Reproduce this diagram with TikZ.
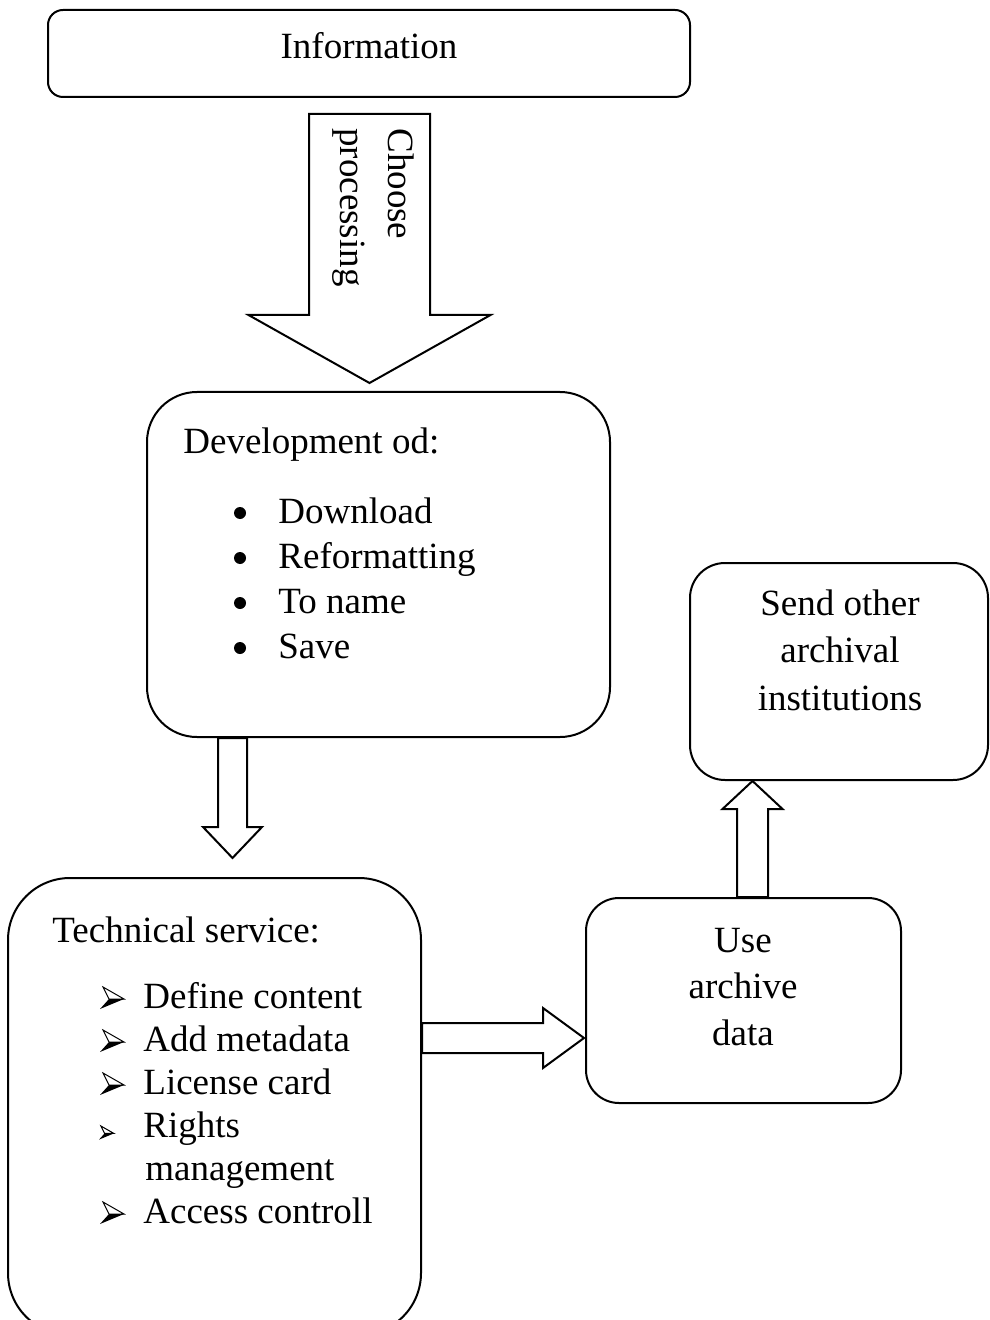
\documentclass[tikz,border=0pt]{standalone}
\usepackage{fontspec}
\setmainfont{Liberation Serif}
\usetikzlibrary{calc}

% Block arrow from #1 (tail) to #2 (tip): shaft half width #3,
% head half width #4, head length #5
\newcommand\blockarrow[5]{%
  \path ($(#2)!#5!(#1)$) coordinate (hb);
  \draw[arrowbody]
    ($(#1)!#3!90:(#2)$) -- ($(hb)!#3!90:(#2)$) -- ($(hb)!#4!90:(#2)$)
    -- (#2)
    -- ($(hb)!#4!-90:(#2)$) -- ($(hb)!#3!-90:(#2)$) -- ($(#1)!#3!-90:(#2)$)
    -- cycle;
}

\begin{document}
\begin{tikzpicture}[x=0.5pt,y=-0.5pt,
  box/.style={draw, line width=1pt, rectangle, inner sep=0pt},
  txt/.style={inner sep=0pt, font=\fontsize{18.5}{22}\selectfont},
  dot/.style={circle, fill, inner sep=0pt, minimum size=6pt},
  arrowbody/.style={draw, fill=white, line width=1pt, line join=miter},
  % three-d arrowhead bullet, origin at its lower left on the baseline
  pics/arrowbullet/.style={code={
    \draw[line width=0.5pt, fill=white, line join=miter] (3,-21) -- (24,-9) -- (9,-9) -- cycle;
    \fill (9,-9) -- (24,-9) -- (0,1) -- cycle;
  }}]
\useasboundingbox (0,0) rectangle (989,1320);

% boxes
\node[box, minimum width=321pt, minimum height=43.5pt, rounded corners=7.5pt] (info) at (369,53.5) {};
\node[box, minimum width=231.5pt, minimum height=172.5pt, rounded corners=25pt] (dev) at (378.5,564.5) {};
\node[box, minimum width=206.5pt, minimum height=228.5pt, rounded corners=31pt] (tech) at (214.5,1106.5) {};
\node[box, minimum width=157.5pt, minimum height=102.5pt, rounded corners=16.5pt] (use) at (743.5,1000.5) {};
\node[box, minimum width=149pt, minimum height=108.5pt, rounded corners=17.5pt] (send) at (839,671.5) {};

% arrow end points
\coordinate (s1) at ($(info.south)+(0.5,16)$);
\coordinate (t1) at ($(s1 |- dev.north)+(0,-8)$);
\coordinate (s2) at ($(dev.south west)+(86.5,0)$);
\coordinate (t2) at ($(s2 |- tech.north)+(0,-19)$);
\coordinate (t3) at ($(use.west)+(-1,37.5)$);
\coordinate (s3) at (t3 -| tech.east);
\coordinate (t4) at ($(send.south)+(-86.5,0)$);
\coordinate (s4) at (t4 |- use.north);

% block arrows
\blockarrow{s1}{t1}{30.25pt}{60.5pt}{34pt}
\blockarrow{s2}{t2}{7.25pt}{14.75pt}{15.5pt}
\blockarrow{s3}{t3}{7.5pt}{15pt}{20.5pt}
\blockarrow{s4}{t4}{7.75pt}{15pt}{14pt}

% texts
\node[txt, anchor=base] (tinfo) at (369,59) {Information};
\node[txt, rotate=-90, anchor=base west] (tch1) at (388,128) {Choose};
\node[txt, rotate=-90, anchor=base west] (tch2) at (340,128) {processing};

\node[txt, anchor=base west] (tdev) at (183,453) {Development od:};
\foreach \y/\t [count=\i] in {523/Download, 568/Reformatting, 613/To name, 658/Save} {
  \node[dot] (db\i) at (240,{\y-10}) {};
  \node[txt, anchor=base west] (dt\i) at (278,\y) {\t};
}

\node[txt, anchor=base west] (ttech) at (52,942) {Technical service:};
\foreach \y/\t [count=\i] in {1008/Define content, 1051/Add metadata, 1094/License card, 1223/Access controll} {
  \pic at (100,\y) {arrowbullet};
  \node[txt, anchor=base west] (tt\i) at (143,\y) {\t};
}
\pic[scale=0.62] at (99,1139) {arrowbullet};
\node[txt, anchor=base west] (trig1) at (143,1137) {Rights};
\node[txt, anchor=base west] (trig2) at (145,1180) {management};

\node[txt, anchor=base] (tsend1) at (840,615) {Send other};
\node[txt, anchor=base] (tsend2) at (840,662) {archival};
\node[txt, anchor=base] (tsend3) at (840,710) {institutions};

\node[txt, anchor=base] (tuse1) at (743,952) {Use};
\node[txt, anchor=base] (tuse2) at (743,998) {archive};
\node[txt, anchor=base] (tuse3) at (743,1045) {data};
\end{tikzpicture}
\end{document}
